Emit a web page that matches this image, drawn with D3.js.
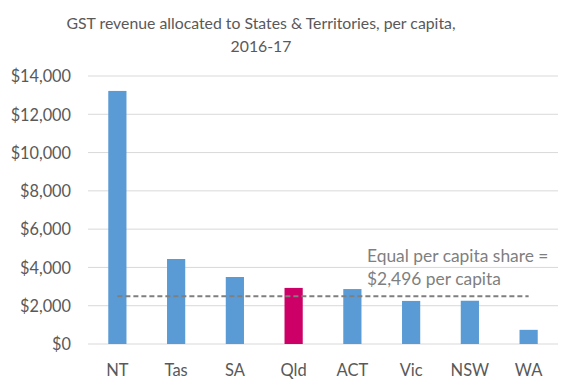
<!DOCTYPE html>
<html><head><meta charset="utf-8">
<script src="https://cdn.jsdelivr.net/npm/d3@7"></script>
<style>body{margin:0;background:#fff}text{font-family:Lato,"Open Sans",sans-serif}</style>
</head><body><svg id="c" width="572" height="388"></svg>
<script>
const categories = ["NT","Tas","SA","Qld","ACT","Vic","NSW","WA"];
const values = [13220, 4440, 3500, 2930, 2870, 2250, 2260, 740];
const highlight = ["Qld"];
const equalShare = 2496;
const yTicks = [0,2000,4000,6000,8000,10000,12000,14000];
const titleLines = ["GST revenue allocated to States & Territories, per capita,","2016-17"];
const noteLines = ["Equal per capita share =","$2,496 per capita"];

const svg = d3.select("#c");
const m = {l:88, r:14, t:76, b:44};
const W = 572, H = 388;
const x = d3.scaleBand().domain(categories).range([m.l, W-m.r]).paddingInner(0.69).paddingOuter(0.345);
const y = d3.scaleLinear().domain([0,14000]).range([H-m.b, m.t]);
const fmt = d => "$" + d3.format(",")(d);

svg.append("g").selectAll("line").data(yTicks).join("line")
  .attr("x1", m.l).attr("x2", W-m.r)
  .attr("y1", d=>y(d)).attr("y2", d=>y(d))
  .attr("stroke","#d9d9d9").attr("stroke-width",1);

const ya = svg.append("g").attr("transform",`translate(${m.l-17},0)`)
  .call(d3.axisLeft(y).tickValues(yTicks).tickFormat(fmt).tickSize(0).tickPadding(0));
ya.select(".domain").remove();
ya.selectAll("text").attr("font-size",16.3).attr("fill","#595959").attr("font-family","Lato").attr("dy","0.35em");

svg.append("g").selectAll("rect").data(categories).join("rect")
  .attr("x", d=>x(d)).attr("width", x.bandwidth())
  .attr("y", (d,i)=>y(values[i])).attr("height", (d,i)=>y(0)-y(values[i]))
  .attr("fill", d=> highlight.includes(d) ? "#CC0066" : "#5B9BD5");

const xa = svg.append("g").attr("transform",`translate(0,${H-m.b})`)
  .call(d3.axisBottom(x).tickSize(0).tickPadding(0));
xa.select(".domain").remove();
xa.selectAll("text").attr("font-size",16.5).attr("fill","#595959").attr("font-family","Lato").attr("dy","1.95em");

const c0 = x(categories[0]) + x.bandwidth()/2, c1 = x(categories[categories.length-1]) + x.bandwidth()/2;
svg.append("line").attr("x1",c0).attr("x2",c1).attr("y1",y(equalShare)).attr("y2",y(equalShare))
  .attr("stroke","#7f7f7f").attr("stroke-width",2).attr("stroke-dasharray","5,3");

svg.append("g").selectAll("text").data(noteLines).join("text")
  .attr("x",367).attr("y",(d,i)=>262+i*23).attr("font-size",17.4).attr("fill","#7f7f7f").text(d=>d);

svg.append("g").selectAll("text").data(titleLines).join("text")
  .attr("x",261).attr("y",(d,i)=>29+i*23).attr("text-anchor","middle")
  .attr("font-size",15.8).attr("fill","#595959").text(d=>d);
</script></body></html>
